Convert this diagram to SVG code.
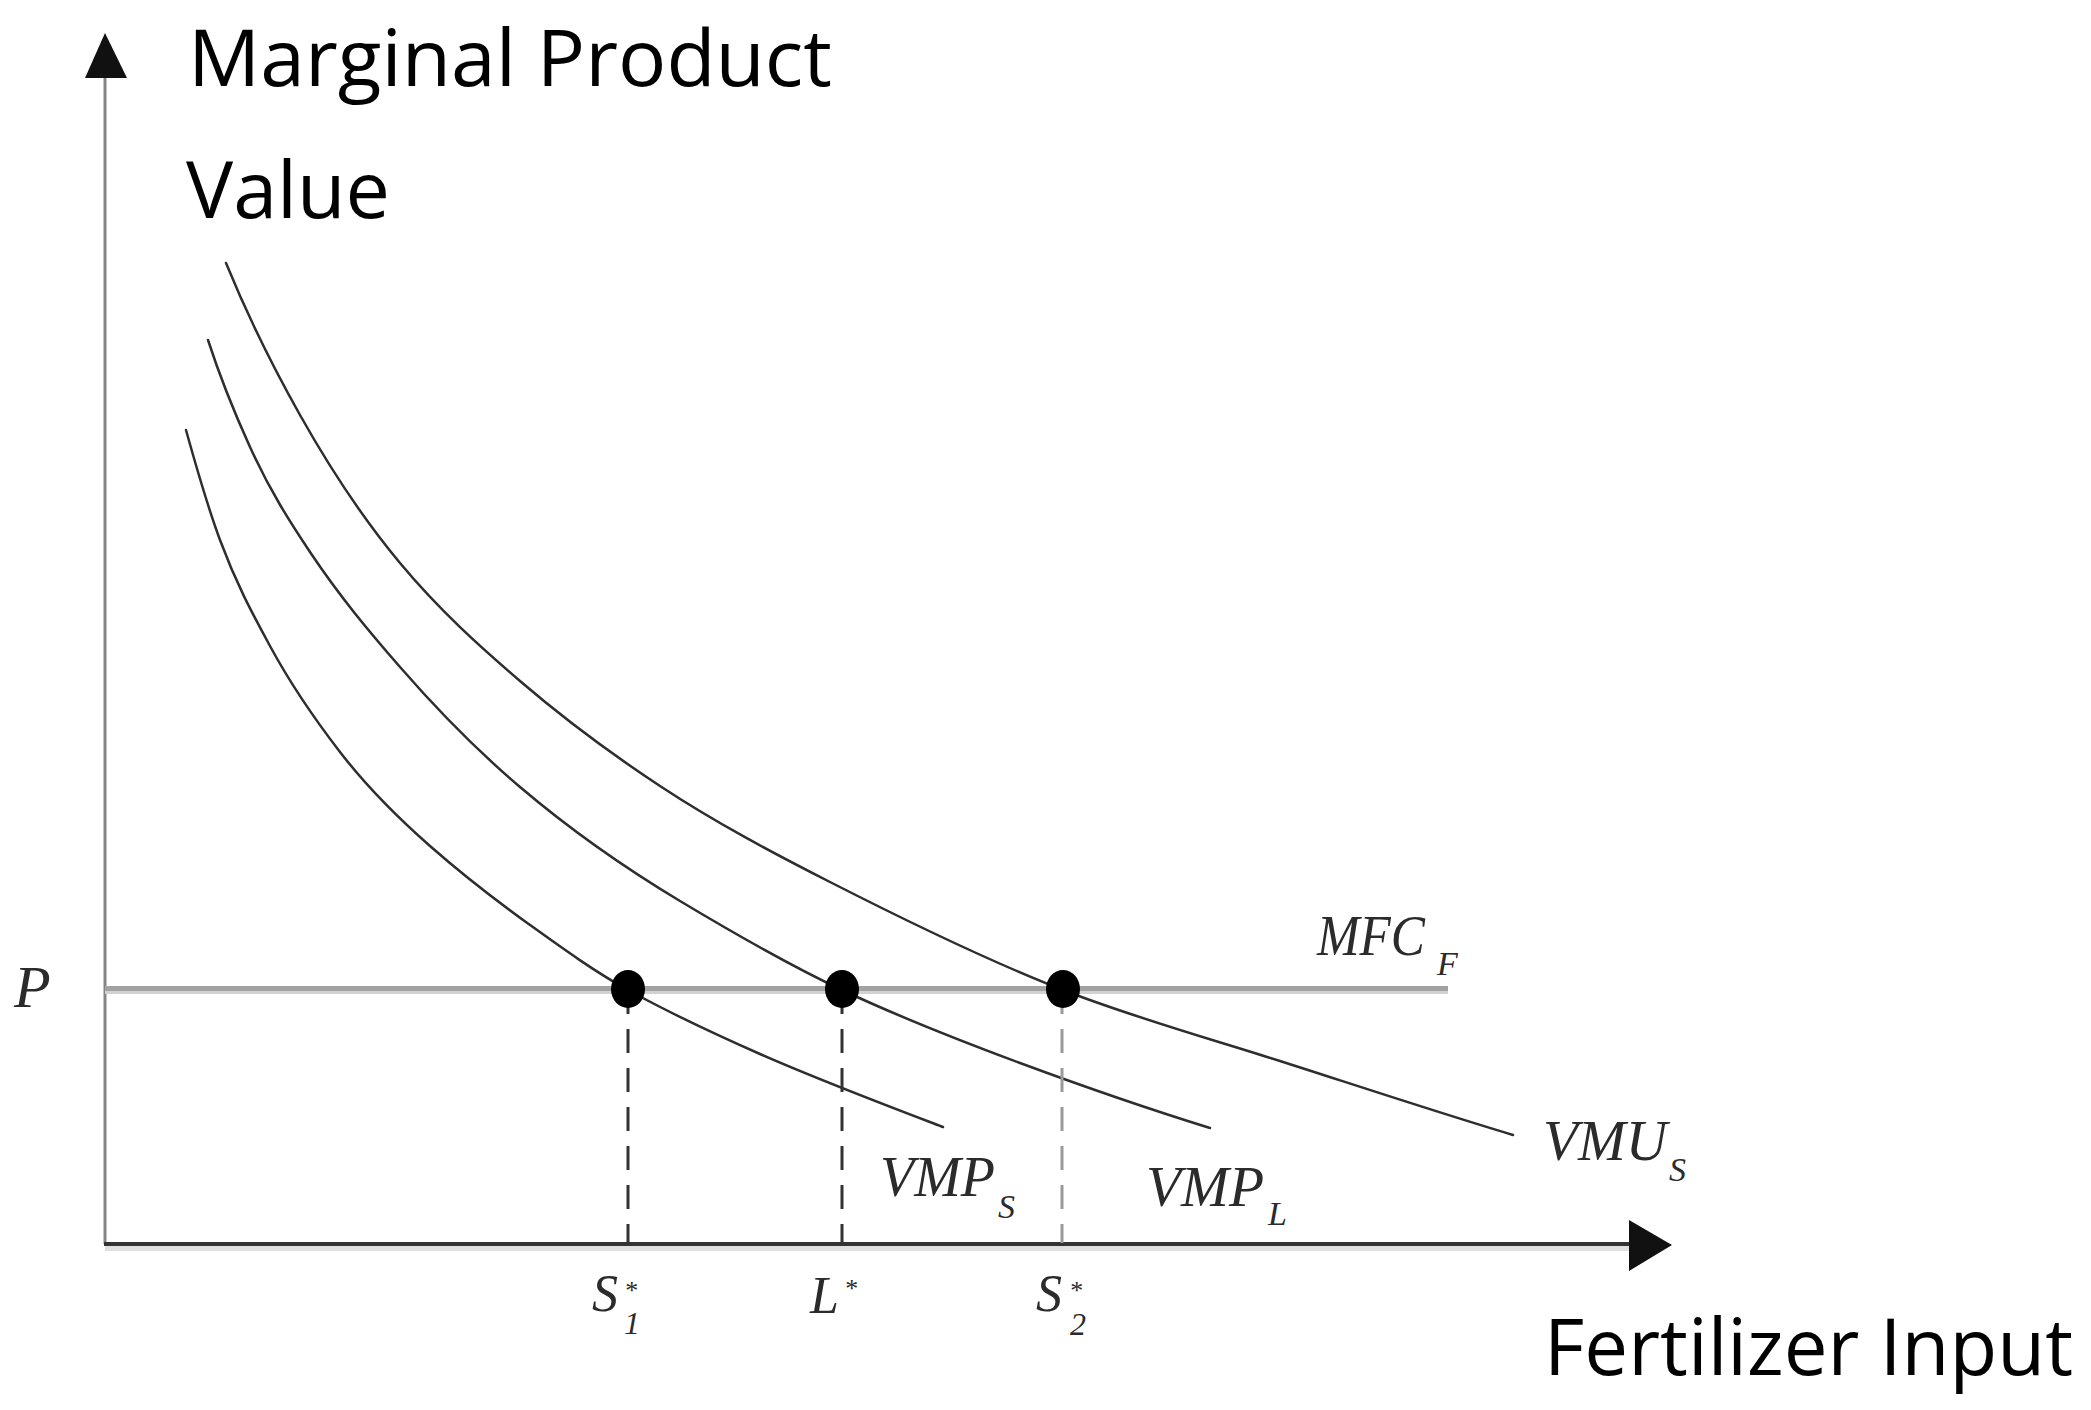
<svg xmlns="http://www.w3.org/2000/svg" width="2091" height="1410" viewBox="0 0 2091 1410">
<style>
.title{font-family:"Open Sans","Noto Sans","Liberation Sans",sans-serif;font-size:78px;fill:#000}
.math{font-family:"Liberation Serif","DejaVu Serif",serif;font-style:italic;fill:#2b2b2b}
.big{font-size:58px}
.sub{font-size:34px}
.tsub{font-size:32px}
.tick{font-size:52px}
.star{font-size:26px}
.curve{fill:none;stroke:#2e2e2e;stroke-width:2.5;stroke-linecap:round}
.dash{fill:none;stroke:#333;stroke-width:3;stroke-dasharray:24 15}
.dashlight{fill:none;stroke:#9a9a9a;stroke-width:3;stroke-dasharray:24 15}
.dot{fill:#000}
</style>
<rect width="2091" height="1410" fill="#fff"/>

<g id="axes">
  <line x1="105" y1="70" x2="105" y2="1244" stroke="#858585" stroke-width="3"/>
  <polygon points="105,33 127,78 85,78" fill="#111"/>
  <line x1="105" y1="1248.5" x2="1632" y2="1248.5" stroke="#e0e0e0" stroke-width="5"/>
  <line x1="104" y1="1244" x2="1632" y2="1244" stroke="#333" stroke-width="4"/>
  <polygon points="1629,1220 1672,1245 1629,1271" fill="#111"/>
</g>

<g id="mfc-line">
  <line x1="105" y1="992.5" x2="1448" y2="992.5" stroke="#d2d2d2" stroke-width="3"/>
  <line x1="105" y1="988.5" x2="1448" y2="988.5" stroke="#a2a2a2" stroke-width="5"/>
</g>

<g id="connectors">
  <path id="vmp-s" class="curve" d="M186,430 C197.33,470.8 208.67,509.4 220,540 C236.67,585 253.33,615.2 270,646 C293.33,689.2 316.67,721.7 340,752 C370,791 400,819.6 430,846 C463.33,875.3 496.67,901 530,925 C562.67,948.5 595.33,972 628,990 C672,1014.2 716,1034.6 760,1054 C821,1080.8 882,1103.8 943,1127"/>
  <path id="vmp-l" class="curve" d="M208,340 C222,383.4 236,416.2 250,447 C270,491 290,522 310,552 C340,597 370,632.5 400,667 C440,713 480,753 520,787 C573.33,832.3 626.67,869 680,901 C734,933.4 788,964.6 842,990 C901.33,1017.9 960.67,1041 1020,1063 C1083.33,1086.4 1146.67,1108.4 1210,1128"/>
  <path id="vmu-s" class="curve" d="M226,263 C250.67,323.4 275.33,371.1 300,415 C333.33,474.3 366.67,523 400,563 C440,611 480,646.6 520,681 C566.67,721.1 613.33,755.2 660,786 C716.67,823.4 773.33,853.1 830,882 C907.67,921.6 985.33,959.7 1063,990 C1135.33,1018.2 1207.67,1037.9 1280,1061 C1357.67,1085.9 1435.33,1111.7 1513,1135"/>
  <line class="dash" x1="628" y1="990" x2="628" y2="1243"/>
  <line class="dash" x1="842" y1="990" x2="842" y2="1243"/>
  <line class="dashlight" x1="1062" y1="990" x2="1062" y2="1243"/>
</g>

<g id="node-s1"><ellipse class="dot" cx="628" cy="989" rx="17" ry="19"/></g>
<g id="node-l"><ellipse class="dot" cx="842" cy="989" rx="17" ry="19"/></g>
<g id="node-s2"><ellipse class="dot" cx="1063" cy="989" rx="17" ry="19"/></g>

<g id="axis-titles">
  <text class="title" x="188" y="86" textLength="644" lengthAdjust="spacingAndGlyphs">Marginal Product</text>
  <text class="title" x="186" y="218" textLength="204" lengthAdjust="spacingAndGlyphs">Value</text>
  <text class="title" x="1544" y="1375" textLength="529" lengthAdjust="spacingAndGlyphs">Fertilizer Input</text>
</g>

<g id="curve-labels">
  <text class="math" x="14" y="1007" font-size="60">P</text>
  <text class="math big" x="1317" y="955" textLength="108" lengthAdjust="spacingAndGlyphs">MFC</text>
  <text class="math sub" x="1437" y="975">F</text>
  <text class="math big" x="880" y="1196" textLength="115" lengthAdjust="spacingAndGlyphs">VMP</text>
  <text class="math sub" x="998" y="1218">S</text>
  <text class="math big" x="1146" y="1206" textLength="118" lengthAdjust="spacingAndGlyphs">VMP</text>
  <text class="math sub" x="1268" y="1225">L</text>
  <text class="math big" x="1543" y="1160" textLength="124" lengthAdjust="spacingAndGlyphs">VMU</text>
  <text class="math sub" x="1669" y="1181">S</text>
</g>

<g id="tick-labels">
  <text class="math tick" x="592" y="1311">S<tspan class="star" x="624" y="1299">*</tspan><tspan class="tsub" x="624" y="1334">1</tspan></text>
  <text class="math tick" x="810" y="1313">L<tspan class="star" x="844" y="1297">*</tspan></text>
  <text class="math tick" x="1036" y="1311">S<tspan class="star" x="1069" y="1299">*</tspan><tspan class="tsub" x="1070" y="1335">2</tspan></text>
</g>
</svg>
